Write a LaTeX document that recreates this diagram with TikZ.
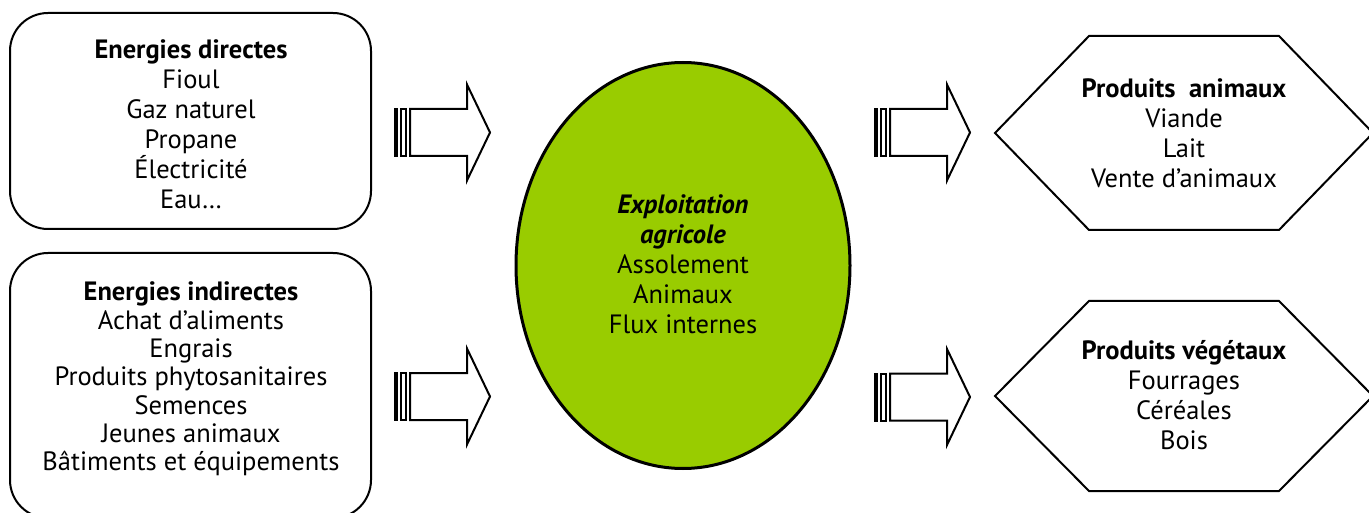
\documentclass[tikz,border=0pt]{standalone}
\usepackage{fontspec}
\setmainfont{PT Sans}
\tikzset{
  outline/.style={draw=black, line width=2pt, line join=miter},
  txt/.style={align=center, inner sep=0pt, font=\fontsize{26.5}{30}\selectfont},
  txttight/.style={align=center, inner sep=0pt, font=\fontsize{26.5}{28.3}\selectfont},
  stripedarrow/.pic={
    \draw[outline] (1,-23.5) rectangle (3,23.5);
    \draw[outline] (6.5,-23.5) rectangle (11.5,23.5);
    \draw[outline] (16,-23.5) -- (73,-23.5) -- (73,-48) -- (96,0)
                   -- (73,48) -- (73,23.5) -- (16,23.5) -- cycle;
  }
}
\begin{document}
\begin{tikzpicture}[x=1pt,y=-1pt]
  \useasboundingbox (0,0) rectangle (1369,513);

  % input boxes
  \draw[outline, rounded corners=38pt] (10,13) rectangle (371,229);
  \draw[outline, rounded corners=38pt] (10,253) rectangle (371,518);
  \node[txt] (direct) at (191,124)
    {\textbf{Energies directes}\\Fioul\\Gaz naturel\\Propane\\Électricité\\Eau…};
  \node[txttight] (indirect) at (191,379)
    {\textbf{Energies indirectes}\\Achat d’aliments\\Engrais\\Produits phytosanitaires\\Semences\\Jeunes animaux\\Bâtiments et équipements};

  % the farm
  \draw[line width=3pt, fill={rgb,255:red,153;green,204;blue,0}]
    (683,265.5) ellipse [x radius=167, y radius=203];
  \node[txt] (farm) at (683,264)
    {\textbf{\itshape Exploitation}\\\textbf{\itshape agricole}\\Assolement\\Animaux\\Flux internes};

  % output hexagons
  \draw[outline] (995,133) -- (1089,36) -- (1279,36) -- (1373,133)
                 -- (1279,230) -- (1089,230) -- cycle;
  \draw[outline] (995,396) -- (1089,301) -- (1279,301) -- (1373,396)
                 -- (1279,491) -- (1089,491) -- cycle;
  \node[txt] (animal) at (1184,133)
    {\textbf{Produits~ animaux}\\Viande\\Lait\\Vente d’animaux};
  \node[txt] (vegetal) at (1184,395.5)
    {\textbf{Produits végétaux}\\Fourrages\\Céréales\\Bois};

  % flow arrows
  \pic at (394,132.5) {stripedarrow};
  \pic at (394,396.5) {stripedarrow};
  \pic at (874,132.5) {stripedarrow};
  \pic at (874,397) {stripedarrow};
\end{tikzpicture}
\end{document}
